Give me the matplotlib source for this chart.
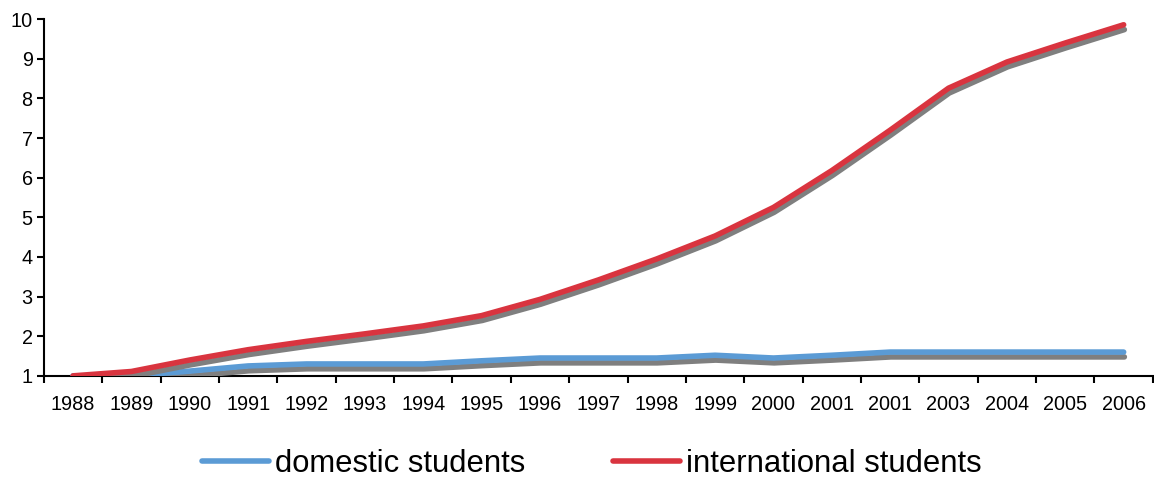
import matplotlib
matplotlib.use("Agg")
import matplotlib.pyplot as plt
import matplotlib.patheffects as pe
from matplotlib.lines import Line2D

plt.rcParams['font.family'] = ['Liberation Sans', 'DejaVu Sans']

years = ["1988", "1989", "1990", "1991", "1992", "1993", "1994", "1995", "1996",
         "1997", "1998", "1999", "2000", "2001", "2001", "2003", "2004", "2005", "2006"]
domestic = [1.0, 1.0, 1.12, 1.25, 1.3, 1.3, 1.3, 1.38, 1.45, 1.45, 1.45, 1.52,
            1.45, 1.52, 1.6, 1.6, 1.6, 1.6, 1.6]
international = [1.0, 1.11, 1.4, 1.66, 1.87, 2.06, 2.26, 2.52, 2.93, 3.42, 3.95,
                 4.53, 5.25, 6.18, 7.2, 8.26, 8.92, 9.4, 9.86]
y_ticks = [1, 2, 3, 4, 5, 6, 7, 8, 9, 10]

blue = "#5b9bd5"
red = "#d9343f"
shadow = "#7f7f7f"

fig = plt.figure(figsize=(11.54, 4.8), dpi=100)
ax = fig.add_axes([0.038, 0.217, 0.961, 0.743])

x = list(range(len(years)))
shadow_fx = [pe.SimpleLineShadow(offset=(0.5, -3.5), shadow_color=shadow, alpha=1.0),
             pe.Normal()]
ax.plot(x, domestic, color=blue, lw=4.0, solid_capstyle='round',
        solid_joinstyle='round', path_effects=shadow_fx, zorder=3)
ax.plot(x, international, color=red, lw=4.0, solid_capstyle='round',
        solid_joinstyle='round', path_effects=shadow_fx, zorder=4)

ax.set_xlim(-0.5, len(years) - 0.5)
ax.set_ylim(1, 10)
ax.set_yticks(y_ticks)
ax.set_yticklabels([str(v) for v in y_ticks])

# category labels centred between tick marks
ax.set_xticks([i - 0.5 for i in range(len(years) + 1)])
ax.set_xticklabels([])
ax.set_xticks(x, minor=True)
ax.set_xticklabels(years, minor=True)
ax.tick_params(axis='x', which='minor', length=0, pad=14, labelsize=14.3)
ax.tick_params(axis='x', which='major', direction='out', length=5, width=1.5)
ax.tick_params(axis='y', direction='out', length=5, width=1.5, pad=3, labelsize=14.3)

for s in ['top', 'right']:
    ax.spines[s].set_visible(False)
for s in ['left', 'bottom']:
    ax.spines[s].set_linewidth(1.5)
    ax.spines[s].set_color('black')

handles = [Line2D([], [], color=blue, lw=4.0, solid_capstyle='round'),
           Line2D([], [], color=red, lw=4.0, solid_capstyle='round')]
fig.legend(handles, ["domestic students", "international students"],
           loc='center', bbox_to_anchor=(0.513, 0.034), ncol=2, frameon=False,
           fontsize=22.3, handlelength=2.15, handletextpad=0.2, columnspacing=2.85,
           borderaxespad=0, borderpad=0)

fig.savefig("out.png", dpi=100)
